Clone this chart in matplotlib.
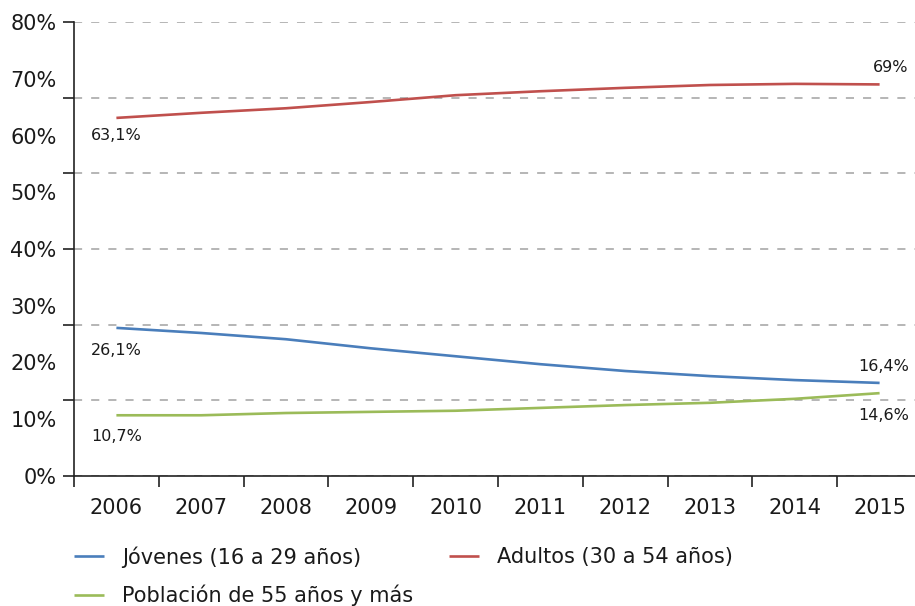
import matplotlib
matplotlib.use("Agg")
import matplotlib.pyplot as plt
import numpy as np

years = ["2006", "2007", "2008", "2009", "2010", "2011", "2012", "2013", "2014", "2015"]
jovenes = [26.1, 25.2, 24.1, 22.5, 21.1, 19.7, 18.5, 17.6, 16.9, 16.4]
adultos = [63.1, 64.0, 64.8, 65.9, 67.1, 67.8, 68.4, 68.9, 69.1, 69.0]
mayores = [10.7, 10.7, 11.1, 11.3, 11.5, 12.0, 12.5, 12.9, 13.6, 14.6]
labels = ["Jóvenes (16 a 29 años)", "Adultos (30 a 54 años)", "Población de 55 años y más"]
ytick_labels = ["0%", "10%", "20%", "30%", "40%", "50%", "60%", "70%", "80%"]

plt.rcParams['font.family'] = ['DejaVu Sans']
TXT = '#1a1a1a'
W, H = 915, 606
fig = plt.figure(figsize=(W / 100, H / 100), dpi=100)
ax = fig.add_axes([74 / W, (H - 476) / H, 848 / W, 454 / H])

x = np.arange(len(years))
c_j, c_a, c_m = '#4a7ebb', '#c0504d', '#9bbb59'
lj, = ax.plot(x, jovenes, color=c_j, lw=1.9, solid_capstyle='butt')
la, = ax.plot(x, adultos, color=c_a, lw=1.9, solid_capstyle='butt')
lm, = ax.plot(x, mayores, color=c_m, lw=1.9, solid_capstyle='butt')

ax.set_xlim(-0.5, len(years) - 0.5)
ax.set_ylim(0, 80)

# y: labels every 10%, ticks+grid at 6 divisions
ax.yaxis.remove_overlapping_locs = False
ax.set_yticks(np.arange(0, 81, 10))
ax.set_yticklabels(ytick_labels)
ax.set_yticks(np.linspace(0, 80, 7), minor=True)
ax.tick_params(axis='y', which='major', length=0, pad=12.5, labelsize=15, labelcolor=TXT)
ax.tick_params(axis='y', which='minor', length=8, width=1.2, color='#222222')
ax.yaxis.grid(True, which='minor', color='#b0b0b0', lw=1.3, linestyle=(0, (4.5, 5)))
for gl in ax.yaxis.get_minorticklines():
    gl.set_clip_on(False)

# x: ticks at boundaries, labels at centers
ax.xaxis.remove_overlapping_locs = False
ax.set_xticks(np.arange(-0.5, len(years), 1.0))
ax.set_xticklabels([])
ax.set_xticks(x, minor=True)
ax.set_xticklabels(years, minor=True)
ax.tick_params(axis='x', which='major', length=8, width=1.2, color='#222222', direction='out')
ax.tick_params(axis='x', which='minor', length=0, pad=15.5, labelsize=15, labelcolor=TXT)

for s in ['top', 'right']:
    ax.spines[s].set_visible(False)
for s in ['left', 'bottom']:
    ax.spines[s].set_linewidth(1.2)
    ax.spines[s].set_color('#222222')
for gl in ax.get_ygridlines():
    gl.set_clip_on(False)

def fmt(v):
    s = f"{v:.1f}".replace('.', ',')
    if s.endswith(',0'):
        s = s[:-2]
    return s + '%'

def lab_left(i, v, dy):
    ax.annotate(fmt(v), (x[i], v), xytext=(0, dy), textcoords='offset points',
                ha='center', va='center', fontsize=11.5, color=TXT)

def lab_right(i, v, dy):
    ax.annotate(fmt(v), (x[i], v), xytext=(21, dy), textcoords='offset points',
                ha='right', va='center', fontsize=11.5, color=TXT)

lab_left(0, adultos[0], -13)
lab_left(0, jovenes[0], -16)
lab_left(0, mayores[0], -15)
lab_right(-1, adultos[-1], 12.5)
lab_right(-1, jovenes[-1], 11.5)
lab_right(-1, mayores[-1], -16)

leg = fig.legend([lj, lm, la], [labels[0], labels[2], labels[1]], ncol=2,
                 loc='upper left', bbox_to_anchor=(74 / W, 1 - 546 / H),
                 frameon=False, fontsize=15, handlelength=1.45, handletextpad=0.87,
                 columnspacing=1.7, labelspacing=0.84, borderpad=0, borderaxespad=0)
for t in leg.get_texts():
    t.set_color(TXT)

fig.savefig('out.png', dpi=100)
